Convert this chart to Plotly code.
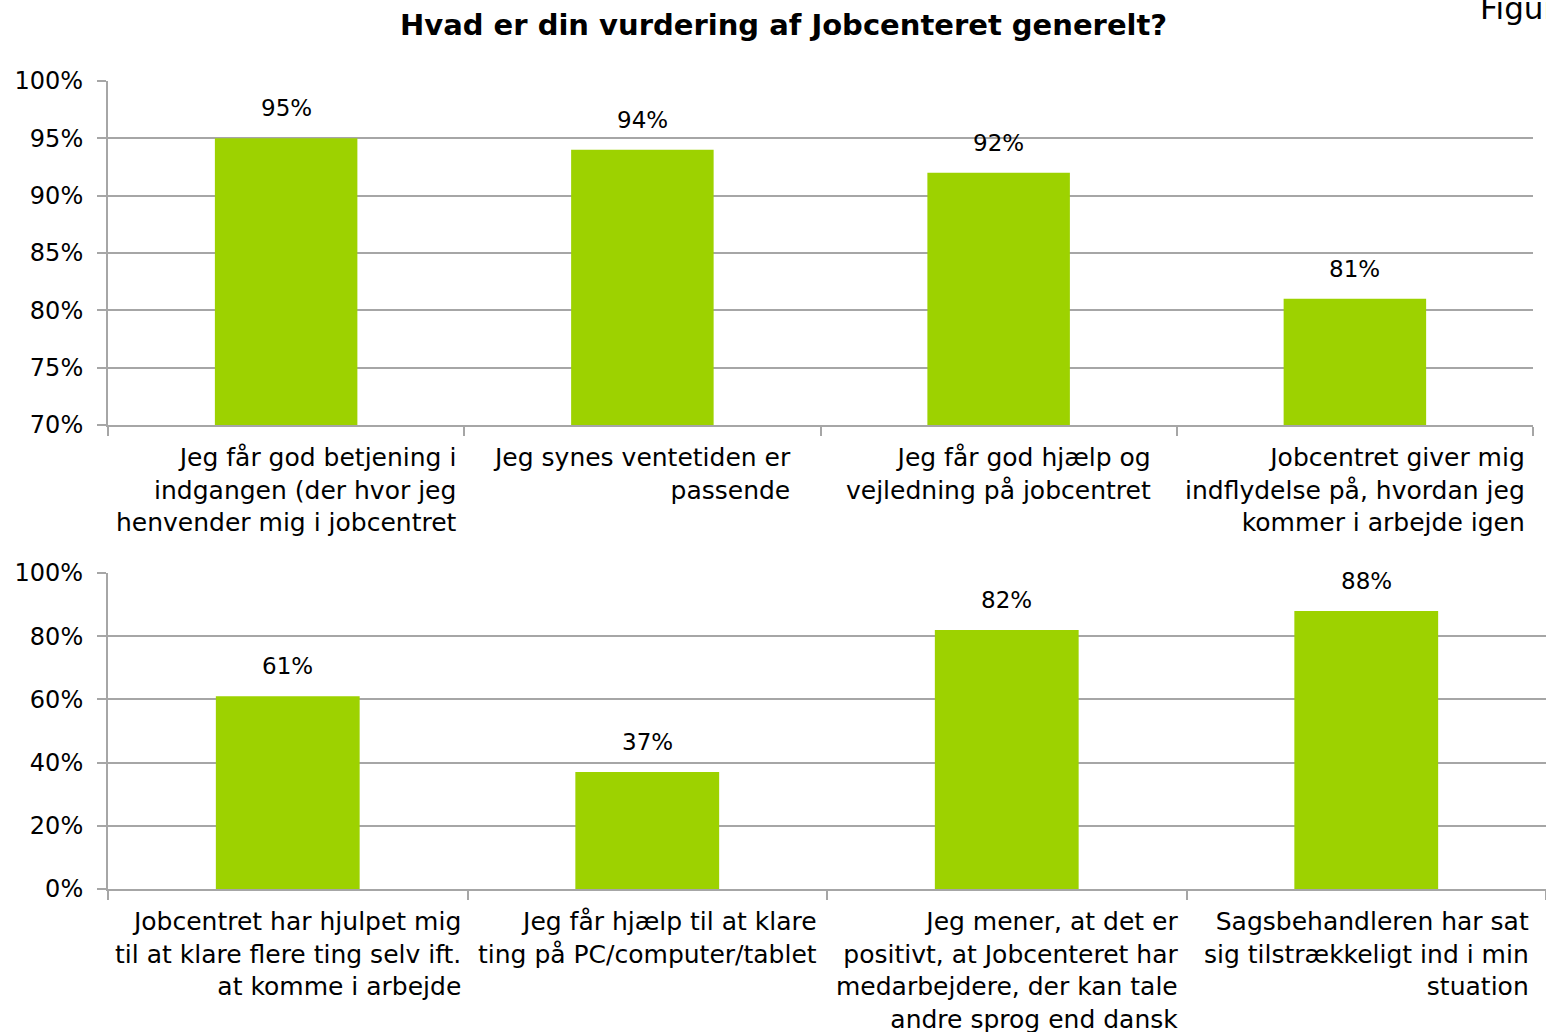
import plotly.graph_objects as go

title = "Hvad er din vurdering af Jobcenteret generelt?"

top_categories = [
    "Jeg får god betjening i\nindgangen (der hvor jeg\nhenvender mig i jobcentret",
    "Jeg synes ventetiden er\npassende",
    "Jeg får god hjælp og\nvejledning på jobcentret",
    "Jobcentret giver mig\nindflydelse på, hvordan jeg\nkommer i arbejde igen",
]
top_values = [95, 94, 92, 81]

bottom_categories = [
    "Jobcentret har hjulpet mig\ntil at klare flere ting selv ift.\nat komme i arbejde",
    "Jeg får hjælp til at klare\nting på PC/computer/tablet",
    "Jeg mener, at det er\npositivt, at Jobcenteret har\nmedarbejdere, der kan tale\nandre sprog end dansk",
    "Sagsbehandleren har sat\nsig tilstrækkeligt ind i min\nstuation",
]
bottom_values = [61, 37, 82, 88]

W, H = 1546, 1032
FONT = "DejaVu Sans"
BAR_COLOR = "#9dd200"
GRID = "#a6a6a6"

fig = go.Figure()

panels = [
    dict(cats=top_categories, vals=top_values, xa="x", ya="y",
         xdom=[108 / W, 1533 / W], ydom=[1 - 425 / H, 1 - 81 / H],
         yrange=[70, 100], dtick=5),
    dict(cats=bottom_categories, vals=bottom_values, xa="x2", ya="y2",
         xdom=[108 / W, 1.0], ydom=[1 - 889 / H, 1 - 573 / H],
         yrange=[0, 100], dtick=20),
]

annotations = []
for i, p in enumerate(panels):
    keys = [c.replace("\n", " ") for c in p["cats"]]
    fig.add_trace(go.Bar(
        x=keys, y=p["vals"], xaxis=p["xa"], yaxis=p["ya"],
        width=0.4, marker=dict(color=BAR_COLOR, line=dict(width=0)),
        showlegend=False, hoverinfo="x+y",
    ))
    for k, c, v in zip(keys, p["cats"], p["vals"]):
        annotations.append(dict(
            x=k, y=v, xref=p["xa"], yref=p["ya"], text=f"{v}%",
            showarrow=False, xanchor="center", yanchor="bottom", yshift=15,
            font=dict(family=FONT, size=23, color="black"),
        ))
        annotations.append(dict(
            x=k, y=0, xref=p["xa"], yref=p["ya"] + " domain",
            text=c.replace("\n", "<br>"), showarrow=False,
            xanchor="center", yanchor="top", align="right", yshift=-16,
            font=dict(family=FONT, size=25, color="black"),
        ))
    sfx = "" if i == 0 else "2"
    fig.layout["xaxis" + sfx] = dict(
        domain=p["xdom"], anchor="y" + sfx, type="category",
        showticklabels=False, ticks="outside", tickson="boundaries",
        ticklen=9, tickcolor=GRID, tickwidth=1.5, automargin=False,
        showline=True, linecolor=GRID, linewidth=2, showgrid=False,
        range=[-0.5, 3.5], fixedrange=True,
    )
    fig.layout["yaxis" + sfx] = dict(
        domain=p["ydom"], anchor="x" + sfx, range=p["yrange"], dtick=p["dtick"],
        ticksuffix="%", showgrid=True, gridcolor=GRID, gridwidth=2,
        ticks="outside", ticklen=9, tickcolor=GRID, tickwidth=1.5,
        showline=True, linecolor=GRID, linewidth=2, zeroline=False,
        automargin=False, fixedrange=True,
        tickfont=dict(family=FONT, size=24, color="black"), ticklabelstandoff=9,
    )

annotations.append(dict(
    x=783 / W, y=1 - 25 / H, xref="paper", yref="paper", text=f"<b>{title}</b>",
    showarrow=False, xanchor="center", yanchor="middle",
    font=dict(family=FONT, size=29, color="black"),
))
annotations.append(dict(
    x=1478 / W, y=1 - 8 / H, xref="paper", yref="paper", text="Figur 1",
    showarrow=False, xanchor="left", yanchor="middle",
    font=dict(family=FONT, size=31, color="black"),
))

fig.update_layout(
    width=W, height=H, margin=dict(l=0, r=0, t=0, b=0, pad=0, autoexpand=False),
    plot_bgcolor="white", paper_bgcolor="white",
    annotations=annotations, bargap=0.6,
    font=dict(family=FONT, color="black"),
)

fig.write_html("out.html", config={"displayModeBar": False},
               post_script="document.body.style.margin='0';")
